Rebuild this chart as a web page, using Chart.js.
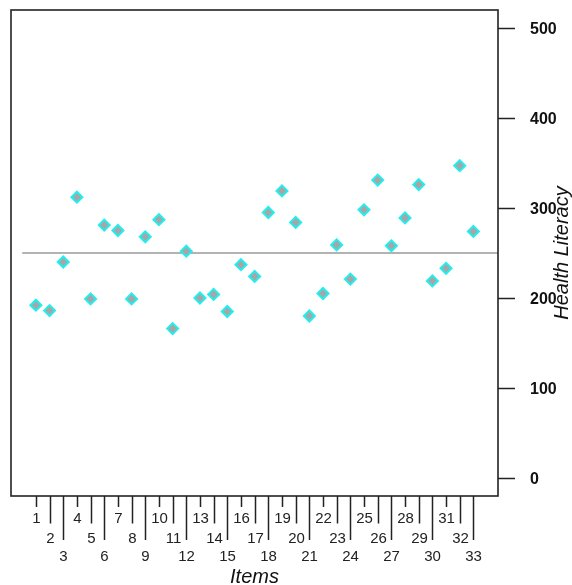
<!DOCTYPE html>
<html>
<head>
<meta charset="utf-8">
<script src="https://cdn.jsdelivr.net/npm/chart.js@4/dist/chart.umd.min.js"></script>
<style>
  html, body { margin: 0; padding: 0; background: #ffffff; }
  #wrap { width: 572px; height: 585px; }
</style>
</head>
<body>
<div id="wrap"><canvas id="c" width="572" height="585"></canvas></div>
<script>
// ---- data ----
const items = [1,2,3,4,5,6,7,8,9,10,11,12,13,14,15,16,17,18,19,20,21,22,23,24,25,26,27,28,29,30,31,32,33];
const healthLiteracy = [192,186,240,312,199,281,275,199,268,287,166,252,200,204,185,237,224,295,319,284,180,205,259,221,298,331,258,289,326,219,233,347,274];
const yTickValues = [0,100,200,300,400,500];
const referenceLevel = 250;
const referenceSpan = [0, 35];
const xAxisTitle = 'Items';
const yAxisTitle = 'Health Literacy';

const FONT = '"Liberation Sans", Arial, Helvetica, sans-serif';

const axesPlugin = {
  id: 'rAxes',
  afterDraw(chart) {
    const ctx = chart.ctx;
    const a = chart.chartArea;
    const xs = chart.scales.x, ys = chart.scales.y;
    ctx.save();
    // box
    ctx.strokeStyle = '#222';
    ctx.lineWidth = 1.6;
    ctx.strokeRect(a.left, a.top, a.right - a.left, a.bottom - a.top);

    // right y axis ticks + labels
    ctx.lineWidth = 1.5;
    ctx.fillStyle = '#111';
    ctx.font = 'bold 16px ' + FONT;
    ctx.textAlign = 'left';
    ctx.textBaseline = 'middle';
    yTickValues.forEach(v => {
      const py = Math.round(ys.getPixelForValue(v)) + 0.5;
      ctx.beginPath();
      ctx.moveTo(a.right, py);
      ctx.lineTo(a.right + 17, py);
      ctx.stroke();
      ctx.fillText(String(v), a.right + 32, py + 1);
    });

    // bottom x axis: staggered ticks and labels
    const tickEnds = [11, 27.5, 44];
    const labelY = [23, 42.5, 60.5];
    ctx.font = '15px ' + FONT;
    ctx.fillStyle = '#222';
    ctx.textAlign = 'center';
    items.forEach((it, i) => {
      const row = i % 3;
      const px = Math.round(xs.getPixelForValue(it)) + 0.5;
      ctx.beginPath();
      ctx.moveTo(px, a.bottom);
      ctx.lineTo(px, a.bottom + tickEnds[row]);
      ctx.stroke();
      ctx.fillText(String(it), px, a.bottom + labelY[row]);
    });

    // axis titles
    ctx.font = 'italic 20px ' + FONT;
    ctx.fillStyle = '#111';
    ctx.textAlign = 'center';
    ctx.fillText(xAxisTitle, (a.left + a.right) / 2, 577);
    ctx.save();
    ctx.translate(562, (a.top + a.bottom) / 2);
    ctx.rotate(-Math.PI / 2);
    ctx.fillText(yAxisTitle, 0, 0);
    ctx.restore();
    ctx.restore();
  }
};

new Chart(document.getElementById('c'), {
  type: 'scatter',
  data: {
    datasets: [
      {
        label: yAxisTitle,
        data: items.map((it, i) => ({ x: it, y: healthLiteracy[i] })),
        pointStyle: 'rectRot',
        pointRadius: 5.5,
        pointHoverRadius: 5.5,
        pointBackgroundColor: '#a6a6a6',
        pointBorderColor: '#22eeee',
        pointBorderWidth: 2,
        showLine: false,
        order: 0
      },
      {
        label: 'reference',
        type: 'line',
        data: referenceSpan.map(x => ({ x: x, y: referenceLevel })),
        borderColor: '#b3b3b3',
        borderWidth: 2,
        pointRadius: 0,
        fill: false,
        order: 1
      }
    ]
  },
  options: {
    responsive: false,
    animation: false,
    devicePixelRatio: 1,
    layout: { padding: { left: 11, top: 10, right: 74, bottom: 89 } },
    plugins: { legend: { display: false }, tooltip: { enabled: false } },
    scales: {
      x: { type: 'linear', min: -0.82, max: 34.8, display: false },
      y: { type: 'linear', min: -20, max: 520, display: false }
    }
  },
  plugins: [axesPlugin]
});
</script>
</body>
</html>
